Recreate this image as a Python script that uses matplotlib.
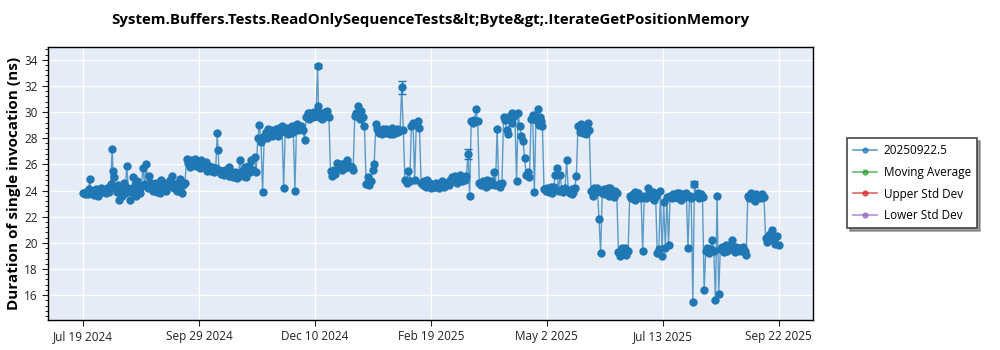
import matplotlib
matplotlib.use('Agg')
import matplotlib.pyplot as plt
import matplotlib.dates as mdates
from matplotlib.ticker import AutoMinorLocator, MultipleLocator
import numpy as np
import pandas as pd

title = 'System.Buffers.Tests.ReadOnlySequenceTests&lt;Byte&gt;.IterateGetPositionMemory'
series_name = '20250922.5'

# daily values, one list per month
jul_2024 = [23.8, 23.75, 23.9, 23.7, 24.9, 23.8, 24.0, 23.65, 24.1, 23.8, 24.0, 24.2, 23.9]
aug_2024 = [24.0, 23.8, 24.2, 23.9, 24.5, 27.2, 25.0, 24.3, 23.9, 23.3, 24.1, 23.6, 24.6, 23.8, 25.9, 24.2,
            23.3, 23.9, 25.0, 24.4, 23.6, 24.1, 23.8, 24.3, 25.75, 24.5, 26.0, 24.2, 25.1, 24.6, 24.0]
sep_2024 = [24.3, 24.6, 23.9, 24.4, 24.8, 24.1, 24.5, 24.0, 24.6, 24.3, 24.7, 25.1, 24.2, 24.5, 24.0,
            24.6, 24.9, 23.8, 24.4, 24.6, 26.4, 26.1, 25.8, 26.3, 26.0, 26.4, 25.9, 26.2, 25.7, 26.3]
oct_2024 = [26.0, 25.8, 26.2, 25.6, 25.9, 25.5, 25.8, 25.4, 25.7, 28.4, 25.6, 25.3, 25.5, 25.2, 25.6, 25.3,
            25.1, 25.5, 25.2, 25.0, 25.4, 24.95, 25.3, 26.3, 25.5, 25.1, 25.8, 25.3, 25.9, 25.4, 26.3]
nov_2024 = [25.6, 26.6, 25.4, 28.0, 29.0, 27.7, 23.9, 28.2, 28.5, 28.0, 28.4, 28.6, 28.2, 28.5, 28.7,
            28.4, 28.8, 28.6, 28.9, 24.2, 28.5, 28.8, 28.3, 28.7, 28.9, 28.5, 24.0, 29.1, 28.6, 28.8]
dec_2024 = [28.9, 28.6, 27.9, 29.6, 29.9, 29.5, 29.8, 29.6, 30.0, 29.7, 33.5, 29.6, 29.9, 29.5, 29.8, 29.7,
            30.1, 29.6, 25.5, 25.1, 25.6, 25.3, 26.1, 25.7, 25.9, 25.6, 26.0, 25.7, 26.35, 25.8, 25.9]
jan_2025 = [25.8, 25.6, 29.7, 29.9, 30.5, 29.8, 30.1, 29.6, 28.9, 24.5, 25.0, 24.4, 24.7, 25.6, 26.0, 29.1,
            28.7, 28.4, 28.6, 28.3, 28.5, 28.7, 28.4, 28.6, 28.3, 28.8, 28.5, 28.4, 28.7, 28.5, 28.6]
feb_2025 = [31.9, 28.6, 24.8, 24.6, 25.5, 24.7, 28.9, 29.2, 24.8, 29.0, 29.3, 28.8, 24.6, 24.4,
            24.7, 24.3, 24.5, 24.6, 24.2, 24.5, 24.3, 24.6, 24.4, 24.2, 24.5, 24.7, 24.3, 24.4]
mar_2025 = [24.6, 24.4, 24.8, 25.0, 24.7, 25.1, 24.6, 24.9, 25.2, 24.7, 25.0, 24.8, 25.1, 26.8, 23.6, 29.3,
            29.2, 29.4, 30.2, 29.3, 24.6, 24.4, 24.7, 24.5, 24.3, 24.6, 24.4, 24.7, 24.5, 25.4, 24.4]
apr_2025 = [28.7, 24.5, 24.3, 24.6, 29.6, 29.4, 28.6, 28.3, 29.7, 29.9, 29.6, 29.8, 24.7, 29.9, 28.9,
            28.2, 27.8, 26.5, 25.2, 25.4, 25.0, 29.5, 29.8, 23.9, 29.4, 30.2, 29.0, 29.3, 28.9, 24.1]
may_2025 = [24.0, 24.2, 23.9, 24.1, 23.8, 24.3, 25.2, 25.7, 24.0, 25.2, 24.1, 23.9, 24.2, 26.3, 24.0, 23.8,
            24.1, 23.9, 24.2, 25.1, 28.9, 28.5, 29.1, 28.4, 28.8, 28.3, 29.2, 28.6, 24.0, 23.6, 24.2]
jun_2025 = [23.9, 24.2, 21.85, 19.25, 23.8, 24.1, 23.7, 24.0, 23.6, 24.2, 23.9, 23.5, 24.0, 23.8, 19.3,
            19.0, 19.5, 19.2, 19.6, 19.1, 19.4, 23.6, 23.4, 23.7, 23.3, 23.6, 23.8, 23.5, 23.4, 19.4]
jul_2025 = [23.6, 23.4, 24.2, 23.7, 23.5, 23.8, 23.3, 23.6, 19.2, 19.5, 24.0, 19.0, 23.1, 19.6, 23.5, 19.8,
            23.6, 23.4, 23.7, 23.5, 23.8, 23.4, 23.6, 23.3, 23.7, 23.5, 23.8, 19.6, 23.6, 23.4, 15.5]
aug_2025 = [24.5, 23.6, 23.8, 23.4, 23.7, 23.5, 16.4, 19.4, 19.6, 19.2, 19.5, 20.2, 19.4, 15.6, 23.6, 16.1,
            19.5, 19.7, 19.3, 19.6, 19.4, 19.7, 19.5, 20.2, 19.6, 19.3, 19.7, 19.5, 19.6, 19.4, 19.7]
sep_2025 = [19.4, 19.1, 23.6, 23.4, 23.8, 23.5, 23.3, 23.7, 23.5, 23.6, 23.4, 23.7, 23.5, 20.4, 20.1,
            20.6, 20.3, 21.0, 20.2, 19.9, 20.5, 19.8]

month_starts = ['2024-07-19', '2024-08-01', '2024-09-01', '2024-10-01', '2024-11-01', '2024-12-01',
                '2025-01-01', '2025-02-01', '2025-03-01', '2025-04-01', '2025-05-01', '2025-06-01',
                '2025-07-01', '2025-08-01', '2025-09-01']
month_vals = [jul_2024, aug_2024, sep_2024, oct_2024, nov_2024, dec_2024, jan_2025, feb_2025,
              mar_2025, apr_2025, may_2025, jun_2025, jul_2025, aug_2025, sep_2025]

# second runs on the same day
extra_dates = ['2024-07-22 12:00', '2024-07-28 12:00', '2024-08-06 12:00', '2024-08-09 12:00',
               '2024-08-13 12:00', '2024-08-21 12:00', '2024-09-04 12:00', '2024-09-10 12:00',
               '2024-09-16 12:00', '2024-09-23 12:00', '2024-10-03 12:00', '2024-10-10 12:00',
               '2024-10-17 12:00', '2024-10-27 12:00', '2024-11-10 12:00', '2024-11-16 12:00',
               '2024-11-24 12:00', '2024-12-06 12:00', '2024-12-11 12:00', '2024-12-15 12:00',
               '2024-12-25 12:00', '2025-01-06 12:00', '2025-01-20 12:00', '2025-01-26 12:00',
               '2025-02-16 12:00', '2025-02-22 12:00', '2025-03-08 12:00', '2025-03-25 12:00',
               '2025-04-10 12:00', '2025-04-27 12:00', '2025-05-04 12:00', '2025-05-17 12:00',
               '2025-05-24 12:00', '2025-06-08 12:00', '2025-06-17 12:00', '2025-06-25 12:00',
               '2025-07-06 12:00', '2025-07-22 12:00', '2025-08-20 12:00', '2025-08-27 12:00',
               '2025-09-07 12:00', '2025-09-16 12:00']
extra_vals = [24.1, 23.6, 25.5, 24.4, 23.9, 24.7, 23.8, 24.8, 24.2, 26.0, 25.5, 27.1,
              25.8, 25.0, 28.7, 28.2, 28.4, 29.9, 30.5, 30.0, 26.0, 29.5, 28.7, 28.3,
              24.8, 24.3, 24.7, 24.8, 29.2, 29.6, 24.3, 23.7, 28.9, 24.2, 19.6, 23.9,
              23.9, 23.8, 19.8, 19.4, 23.2, 20.7]

# the few error bars that stick out of the markers
err_dates = ['2024-12-11', '2025-02-01', '2025-03-14', '2025-08-01']
err_sizes = [0.15, 0.5, 0.35, 0.2]

tick_labels = ['Jul 19 2024', 'Sep 29 2024', 'Dec 10 2024', 'Feb 19 2025', 'May 2 2025',
               'Jul 13 2025', 'Sep 22 2025']

frames = []
for s, v in zip(month_starts, month_vals):
    frames.append(pd.DataFrame({'date': pd.date_range(s, periods=len(v), freq='D'), 'val': v}))
frames.append(pd.DataFrame({'date': pd.to_datetime(extra_dates), 'val': extra_vals}))
df = pd.concat(frames).sort_values('date', kind='stable').reset_index(drop=True)
df['err'] = 0.0
for d, e in zip(pd.to_datetime(err_dates), err_sizes):
    df.loc[df['date'] == d, 'err'] = e

blue = '#1f77b4'
plt.rcParams['font.family'] = ['Open Sans', 'DejaVu Sans']

fig = plt.figure(figsize=(10, 3.5), dpi=100)
ax = fig.add_axes([0.0483, 0.0857, 0.765, 0.7809])
ax.set_facecolor('#E5ECF6')

xnum = mdates.date2num(df['date'])
ax.plot(xnum, df['val'], color=blue, lw=1.0, alpha=0.7, zorder=3)
ax.plot(xnum, df['val'], ls='none', marker='o', ms=5, color=blue, mec=blue, zorder=4)
e = df[df['err'] > 0]
ax.errorbar(mdates.date2num(e['date']), e['val'], yerr=e['err'], fmt='none', ecolor=blue,
            elinewidth=1, capsize=3, zorder=4)

# empty helper series, only in the legend
ax.plot([], [], color=blue, lw=1.2, alpha=0.7, marker='o', ms=3.5, mec=blue, mfc=blue, label=series_name)
ax.plot([], [], color='#2ca02c', lw=1.2, alpha=0.7, marker='o', ms=3.5, label='Moving Average')
ax.plot([], [], color='#d62728', lw=1.2, alpha=0.7, marker='o', ms=3.5, label='Upper Std Dev')
ax.plot([], [], color='#9467bd', lw=1.2, alpha=0.7, marker='o', ms=3.5, label='Lower Std Dev')

x0, x1 = xnum.min(), xnum.max()
span = x1 - x0
ax.set_xlim(x0 - 0.05 * span, x1 + 0.05 * span)
ax.set_ylim(14.1, 35.0)
ax.set_xticks(np.linspace(x0, x1, 7))
ax.set_xticklabels(tick_labels)
ax.yaxis.set_major_locator(MultipleLocator(2))
ax.yaxis.set_minor_locator(AutoMinorLocator(5))
ax.tick_params(axis='both', labelsize=8.5, colors='#222222', length=4)
ax.tick_params(axis='y', which='minor', length=2)
ax.grid(True, color='white', lw=1.0)
ax.set_axisbelow(True)
for sp in ax.spines.values():
    sp.set_color('black')
    sp.set_linewidth(1.0)

ax.set_title(title, fontsize=10.8, fontweight='bold', pad=16)
ax.set_ylabel('Duration of single invocation (ns)', fontsize=11, fontweight='bold')
ax.yaxis.set_label_coords(-0.036, 0.5)

leg = fig.legend(loc='upper left', bbox_to_anchor=(0.847, 0.606), borderaxespad=0, fontsize=8.5,
                 frameon=True, fancybox=False, shadow=True, handlelength=2.0, handletextpad=0.6,
                 labelspacing=0.75, borderpad=0.5)
leg.get_frame().set_edgecolor('#444444')
leg.get_frame().set_linewidth(1.2)

fig.savefig('out.png', dpi=100)
